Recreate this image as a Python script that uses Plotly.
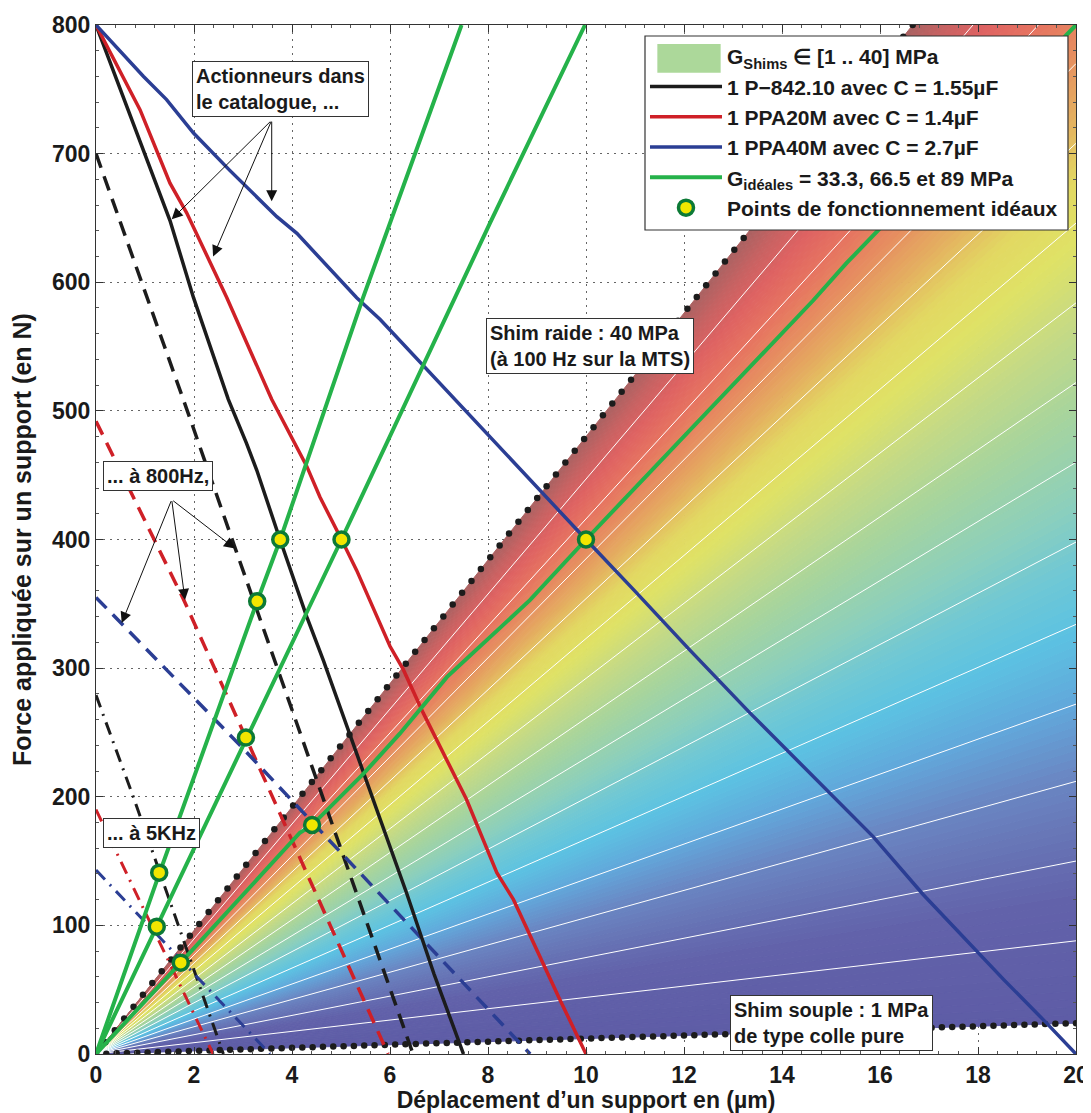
import numpy as np
import plotly.graph_objects as go

# ---------------- data ----------------
x_ticks = [0, 2, 4, 6, 8, 10, 12, 14, 16, 18, 20]
y_ticks = [0, 100, 200, 300, 400, 500, 600, 700, 800]

# catalogue actuators (static)
p842_x = [0, 1.51, 1.99, 2.70, 3.07, 3.28, 3.755, 4.30, 4.64, 5.18, 5.46, 6.34, 6.9, 7.5]
p842_y = [800, 648, 588, 509, 475, 454, 400, 340, 306, 249, 218, 125, 62, 0]
ppa20_x = [0, 0.9, 1.51, 1.85, 2.67, 3.585, 4.30, 4.57, 5.01, 5.32, 6.0, 6.27, 6.68, 7.56, 8.18, 8.52, 9.47, 10.0]
ppa20_y = [800, 734, 677, 654, 588, 509, 457, 433, 400, 376, 317, 299, 265, 198, 141, 120, 42, 0]
ppa40_x = [0, 0.42, 0.97, 1.44, 1.99, 2.73, 3.69, 4.10, 5.32, 5.80, 6.68, 7.63, 10.0, 10.97, 12.12, 13.35,
           14.64, 15.86, 16.88, 18.52, 19.4, 20.0]
ppa40_y = [800, 783, 760, 742, 716, 687, 651, 638, 588, 571, 535, 496, 400, 361, 314, 265,
           216, 169, 124, 58, 24, 0]

# same actuators at 800 Hz
p842_800_x = [0, 1.07, 1.92, 2.87, 6.47]
p842_800_y = [700, 586, 494, 390, 0]
ppa20_800_x = [0, 1.78, 3.14, 5.96]
ppa20_800_y = [492, 354, 239, 0]
ppa40_800_x = [0, 2.94, 8.86]
ppa40_800_y = [355, 240, 0]

# same actuators at 5 kHz
p842_5k_x = [0, 0.76, 2.6]
p842_5k_y = [279, 200, 0]
ppa20_5k_x = [0, 2.39]
ppa20_5k_y = [190, 0]
ppa40_5k_x = [0, 3.55]
ppa40_5k_y = [143, 0]

# ideal shim lines G = 89, 66.5, 33.3 MPa
g89_x = [0, 1.29, 3.29, 3.76, 5.45, 7.46]
g89_y = [0, 140, 352, 400, 588, 800]
g66_x = [0, 1.24, 3.06, 5.01, 8.04, 9.98]
g66_y = [0, 99, 246, 400, 646, 800]
g33_x = [0, 1.73, 4.16, 4.41, 5.46, 6.2, 7.16, 7.84, 8.86, 10.0, 14.64, 15.32, 20.0]
g33_y = [0, 71, 172, 178, 218, 249, 293, 317, 353, 400, 586, 615, 800]

# ideal operating points
ideal_x = [3.76, 5.01, 10.0, 3.29, 3.06, 4.41, 1.29, 1.24, 1.73]
ideal_y = [400, 400, 400, 352, 246, 178, 141, 99, 71]

# shim range: stiffness (N/um) for G = 1 MPa and G = 40 MPa
shim_slope_min = 1.2
shim_slope_max = 48.0
# colour of the shim fan as a function of stiffness
fan_slopes = [1.2, 6, 9, 11, 13.5, 16.5, 19, 21.5, 25, 28.5, 31.5, 34, 36.5, 39, 41.5, 44, 46, 48]
fan_colors = ['#5e5ca6', '#6262aa', '#6878b8', '#6a88c4', '#62a6da', '#5cc2e2', '#70c8d4', '#8ccfbc',
              '#a6d49e', '#c6da84', '#dfe266', '#e2d862', '#e4b060', '#e68e60', '#e67460', '#de6262',
              '#c86262', '#aa6262']
# white iso-lines inside the fan
fan_iso_slopes = [4.4, 7.5, 10.6, 13.6, 16.7, 19.9, 23.0, 26.1, 29.2, 32.3, 35.4, 38.5, 41.6, 44.7]

BLACK = '#1c1c1c'
RED = '#cf2027'
BLUE = '#2b3e94'
GREEN = '#25b24a'
FONT = 'Liberation Sans, Arial, Helvetica, sans-serif'

X_MAX = x_ticks[-1]
Y_MAX = y_ticks[-1]

def hex2rgb(h):
    h = h.lstrip('#')
    return [int(h[i:i + 2], 16) for i in (0, 2, 4)]

fan_rgb = np.array([hex2rgb(c) for c in fan_colors], dtype=float)

def fan_color(s):
    r = np.interp(s, fan_slopes, fan_rgb[:, 0])
    g = np.interp(s, fan_slopes, fan_rgb[:, 1])
    b = np.interp(s, fan_slopes, fan_rgb[:, 2])
    return 'rgb(%d,%d,%d)' % (round(r), round(g), round(b))

fig = go.Figure()

# ---- shim fan (coloured wedges) ----
n_w = 150
edges = np.linspace(shim_slope_min, shim_slope_max, n_w + 1)
for i in range(n_w):
    s0, s1 = edges[i], edges[i + 1]
    col = fan_color(0.5 * (s0 + s1))
    fig.add_trace(go.Scatter(
        x=[0, X_MAX, X_MAX, 0], y=[0, s0 * X_MAX, s1 * X_MAX, 0],
        mode='lines', fill='toself', fillcolor=col,
        line=dict(color=col, width=1), hoverinfo='skip', showlegend=False))

# white iso lines
for s in fan_iso_slopes:
    fig.add_trace(go.Scatter(x=[0, X_MAX], y=[0, s * X_MAX], mode='lines',
                             line=dict(color='white', width=1), hoverinfo='skip', showlegend=False))

# dotted boundaries of the fan
xb_up = np.linspace(0, Y_MAX / shim_slope_max, 88)
fig.add_trace(go.Scatter(x=xb_up, y=shim_slope_max * xb_up, mode='markers',
                         marker=dict(color=BLACK, size=6.5), hoverinfo='skip', showlegend=False))
xb_lo = np.linspace(0, X_MAX, 96)
fig.add_trace(go.Scatter(x=xb_lo, y=shim_slope_min * xb_lo, mode='markers',
                         marker=dict(color=BLACK, size=6.5), hoverinfo='skip', showlegend=False))

# legend entry for the shim range (its swatch is drawn as a shape)
fig.add_trace(go.Scatter(x=[0], y=[0], mode='lines', line=dict(width=0, color='rgba(0,0,0,0)'),
                         name='G<sub>Shims</sub> \u2208 [1 .. 40] MPa', legendrank=1, hoverinfo='skip'))

DASH800 = '15px,9px'
DASH5K = '13px,7px,2px,7px'
for xs, ys, c in [(p842_5k_x, p842_5k_y, BLACK), (ppa20_5k_x, ppa20_5k_y, RED), (ppa40_5k_x, ppa40_5k_y, BLUE)]:
    fig.add_trace(go.Scatter(x=xs, y=ys, mode='lines', line=dict(color=c, width=3, dash=DASH5K),
                             showlegend=False, hoverinfo='skip'))
for xs, ys, c in [(p842_800_x, p842_800_y, BLACK), (ppa20_800_x, ppa20_800_y, RED),
                  (ppa40_800_x, ppa40_800_y, BLUE)]:
    fig.add_trace(go.Scatter(x=xs, y=ys, mode='lines', line=dict(color=c, width=3.5, dash=DASH800),
                             showlegend=False, hoverinfo='skip'))

fig.add_trace(go.Scatter(x=p842_x, y=p842_y, mode='lines', line=dict(color=BLACK, width=3.5),
                         name='1 P\u2212842.10 avec C = 1.55\u00b5F', legendrank=2))
fig.add_trace(go.Scatter(x=ppa20_x, y=ppa20_y, mode='lines', line=dict(color=RED, width=3.5),
                         name='1 PPA20M avec C = 1.4\u00b5F', legendrank=3))
fig.add_trace(go.Scatter(x=ppa40_x, y=ppa40_y, mode='lines', line=dict(color=BLUE, width=3.5),
                         name='1 PPA40M avec C = 2.7\u00b5F', legendrank=4))

fig.add_trace(go.Scatter(x=g89_x, y=g89_y, mode='lines', line=dict(color=GREEN, width=4),
                         name='G<sub>id\u00e9ales</sub> = 33.3, 66.5 et 89 MPa', legendrank=5))
fig.add_trace(go.Scatter(x=g66_x, y=g66_y, mode='lines', line=dict(color=GREEN, width=4),
                         showlegend=False))
fig.add_trace(go.Scatter(x=g33_x, y=g33_y, mode='lines', line=dict(color=GREEN, width=4),
                         showlegend=False))

fig.add_trace(go.Scatter(x=ideal_x, y=ideal_y, mode='markers',
                         marker=dict(color='#f2e600', size=15, line=dict(color='#0c7a36', width=3.5)),
                         name='Points de fonctionnement id\u00e9aux', legendrank=6))

# ---------------- annotations ----------------
box = dict(bgcolor='white', bordercolor='#333333', borderwidth=1, borderpad=3,
           font=dict(family=FONT, size=20, color='#1a1a1a', weight='bold'),
           xref='x', yref='y', showarrow=False, xanchor='left', yanchor='top', align='left')
fig.add_annotation(x=1.96, y=772, text='Actionneurs dans<br>le catalogue, ...', **box)
fig.add_annotation(x=0.14, y=461, text='... \u00e0 800Hz,', **box)
fig.add_annotation(x=0.14, y=183.5, text='... \u00e0 5KHz', **box)
fig.add_annotation(x=7.96, y=572, text='Shim raide : 40 MPa<br>(\u00e0 100 Hz sur la MTS)', **box)
fig.add_annotation(x=12.94, y=46, text='Shim souple : 1 MPa<br>de type colle pure', **box)

arrows = [
    ((3.586, 726), (1.545, 649)),
    ((3.586, 726), (2.39, 620)),
    ((3.586, 726), (3.586, 663)),
    ((1.545, 431), (2.837, 393)),
    ((1.545, 431), (1.816, 353)),
    ((1.545, 431), (0.524, 335)),
]
for (tx, ty), (hx, hy) in arrows:
    fig.add_annotation(x=hx, y=hy, ax=tx, ay=ty, xref='x', yref='y', axref='x', ayref='y',
                       text='', showarrow=True, arrowhead=2, arrowsize=2.2, arrowwidth=1,
                       arrowcolor='#111111')

# legend frame and shim swatch (paper coordinates)
fig.add_shape(type='rect', xref='paper', yref='paper', x0=0.5602, x1=0.9918, y0=0.8008, y1=0.9893,
              fillcolor='white', line=dict(color='#333333', width=1.2), layer='above')
fig.add_shape(type='rect', xref='paper', yref='paper', x0=0.5728, x1=0.6374, y0=0.9537, y1=0.9815,
              fillcolor='#acd89a', line=dict(width=0), layer='above')

axis_common = dict(showgrid=True, gridcolor='#666666', griddash='2px,5px', gridwidth=1,
                   zeroline=False, showline=True, linecolor='#333333', linewidth=1, mirror='ticks',
                   ticks='inside', ticklen=7, tickcolor='#333333', tickwidth=1, automargin=False,
                   tickfont=dict(family=FONT, size=23, color='#1a1a1a', weight='bold'))

# the page body has an 8 px margin: the figure is sized so that the plot area
# lands on the same pixels as the reference (x 96..1076, y 25..1054)
fig.update_layout(
    width=1083, height=1105,
    margin=dict(l=88, r=15, t=17, b=59),
    paper_bgcolor='white', plot_bgcolor='white',
    font=dict(family=FONT, color='#1a1a1a'),
    xaxis=dict(range=[0, X_MAX], tickvals=x_ticks, ticktext=[str(v) for v in x_ticks],
               minor=dict(ticks='inside', ticklen=3, dtick=0.4, tickcolor='#555555', showgrid=False),
               title=dict(text="D\u00e9placement d\u2019un support en (\u00b5m)",
                          font=dict(family=FONT, size=23, color='#1a1a1a', weight='bold')),
               **axis_common),
    yaxis=dict(range=[0, Y_MAX], tickvals=y_ticks, ticktext=[str(v) for v in y_ticks],
               minor=dict(ticks='inside', ticklen=3, dtick=20, tickcolor='#555555', showgrid=False),
               title=dict(text='Force appliqu\u00e9e sur un support (en N)',
                          font=dict(family=FONT, size=25, color='#1a1a1a', weight='bold')),
               **axis_common),
    legend=dict(x=0.5602, y=0.9893, xanchor='left', yanchor='top', bgcolor='rgba(0,0,0,0)',
                borderwidth=0, itemwidth=72, tracegroupgap=0,
                font=dict(family=FONT, size=21, color='#1a1a1a', weight='bold')),
    showlegend=True,
)

fig.write_html('out.html')
